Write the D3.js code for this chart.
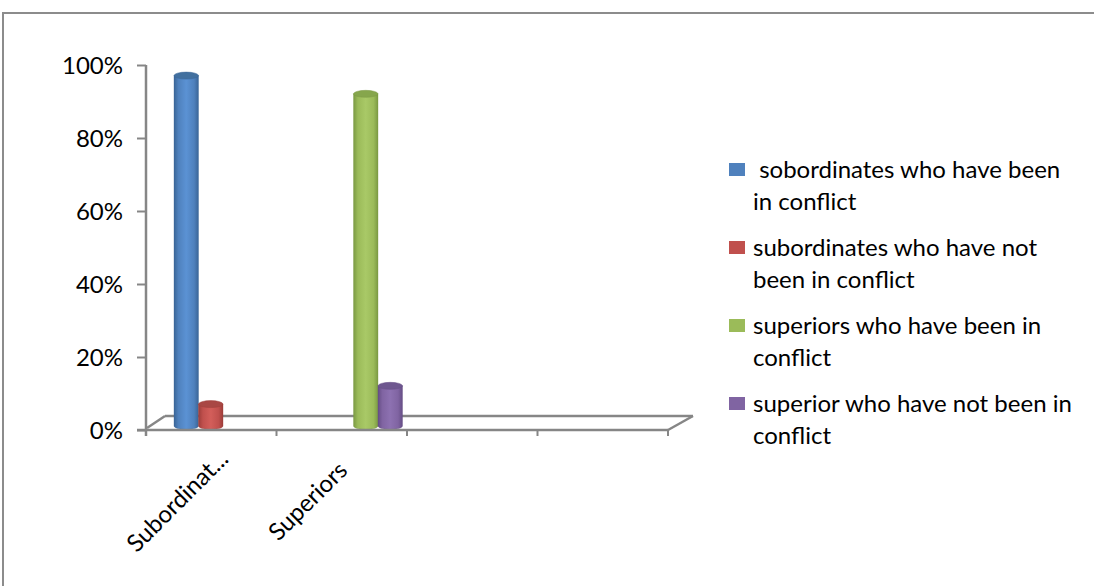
<!DOCTYPE html>
<html>
<head>
<meta charset="utf-8">
<script src="https://cdn.jsdelivr.net/npm/d3@7"></script>
<style>
  html, body { margin: 0; padding: 0; background: #fff; }
  svg { display: block; }
  text { font-family: Lato, "Open Sans", sans-serif; fill: #000; }
</style>
</head>
<body>
<svg id="chart" width="1094" height="586"></svg>
<script>
// Categories along the floor (the last two slots are empty)
const categories = ["Subordinat...", "Superiors", "cat3", "cat4"];
const categoryLabels = ["Subordinat...", "Superiors", "", ""];

// One value list per series, one entry per category (share of respondents)
const beenSubordinates    = [0.96, 0, 0, 0];
const notBeenSubordinates = [0.06, 0, 0, 0];
const beenSuperiors       = [0, 0.91, 0, 0];
const notBeenSuperiors    = [0, 0.11, 0, 0];

const seriesNames = [
  " sobordinates who have been\nin conflict",
  "subordinates who have not\nbeen in conflict",
  "superiors who have been in\nconflict",
  "superior who have not been in\nconflict"
];
const seriesValues = [beenSubordinates, notBeenSubordinates, beenSuperiors, notBeenSuperiors];
const yTicks = [0, 0.2, 0.4, 0.6, 0.8, 1.0];

const seriesColors = [
  { base: "#4F81BD", dark: "#3a6597", mid: "#5b92d4", cap: "#42709f" },
  { base: "#C0504D", dark: "#9d3d3a", mid: "#d35e5a", cap: "#a94744" },
  { base: "#9BBB59", dark: "#7b9a43", mid: "#a9c967", cap: "#86a64c" },
  { base: "#8064A2", dark: "#654d85", mid: "#8d71b1", cap: "#6e578f" }
];

const svg = d3.select("#chart");

// outer frame
svg.append("rect")
  .attr("x", 3).attr("y", 13).attr("width", 1200).attr("height", 700)
  .attr("fill", "none").attr("stroke", "#8c8c8c").attr("stroke-width", 2);

// geometry of the 3-D floor
const floorLeft = 146, floorRight = 668, floorFront = 430;
const depthX = 23, depthY = -15;
const barBase = 426;

const x = d3.scaleBand().domain(categories).range([floorLeft, floorRight]).padding(0);
const xInner = d3.scaleBand().domain(d3.range(seriesValues.length)).range([28, 126]).padding(0);
const y = d3.scaleLinear().domain([0, 1]).range([floorFront, 65]);
const yBar = d3.scaleLinear().domain([0, 1]).range([barBase, barBase - (floorFront - 65)]);

const axisColor = "#868686";

// floor outline
const floor = svg.append("g").attr("stroke", axisColor).attr("stroke-width", 2.5).attr("fill", "none");
floor.append("line").attr("x1", floorLeft + 1).attr("y1", floorFront - 2)
  .attr("x2", floorLeft + depthX - 4).attr("y2", floorFront + depthY + 1);
floor.append("line").attr("x1", floorLeft + depthX - 4).attr("y1", floorFront + depthY + 1)
  .attr("x2", floorRight + depthX + 2).attr("y2", floorFront + depthY + 1);
floor.append("line").attr("x1", floorRight).attr("y1", floorFront)
  .attr("x2", floorRight + depthX + 2).attr("y2", floorFront + depthY + 1);

// gradients for the cylinders
const defs = svg.append("defs");
seriesColors.forEach((c, i) => {
  const g = defs.append("linearGradient").attr("id", "cyl" + i)
    .attr("x1", "0%").attr("x2", "100%").attr("y1", "0%").attr("y2", "0%");
  g.append("stop").attr("offset", "0%").attr("stop-color", c.dark);
  g.append("stop").attr("offset", "18%").attr("stop-color", c.base);
  g.append("stop").attr("offset", "50%").attr("stop-color", c.mid);
  g.append("stop").attr("offset", "82%").attr("stop-color", c.base);
  g.append("stop").attr("offset", "100%").attr("stop-color", c.dark);
});

// cylinders
const bars = [];
categories.forEach((cat, ci) => {
  seriesValues.forEach((vals, si) => {
    if (vals[ci] > 0) bars.push({ cat, si, v: vals[ci] });
  });
});
const ry = 3.5;
const barG = svg.append("g");
bars.forEach(b => {
  const x0 = x(b.cat) + xInner(b.si);
  const w = xInner.bandwidth();
  const top = yBar(b.v);
  const c = seriesColors[b.si];
  const body = `M${x0},${top} L${x0},${barBase} A${w / 2},${ry} 0 0 0 ${x0 + w},${barBase} L${x0 + w},${top} Z`;
  barG.append("path").attr("d", body).attr("fill", `url(#cyl${b.si})`)
    .attr("stroke", c.dark).attr("stroke-opacity", 0.35).attr("stroke-width", 1);
  barG.append("ellipse").attr("cx", x0 + w / 2).attr("cy", top).attr("rx", w / 2).attr("ry", ry)
    .attr("fill", c.cap).attr("stroke", c.dark).attr("stroke-opacity", 0.5);
});

// front edge of the floor with category ticks
const front = svg.append("g").attr("stroke", axisColor).attr("stroke-width", 2.5);
front.append("line").attr("x1", floorLeft - 9).attr("y1", floorFront).attr("x2", floorRight).attr("y2", floorFront);
const tickXs = categories.map(c => x(c)).concat([x.range()[1]]);
tickXs.forEach(tx => {
  front.append("line").attr("x1", tx).attr("x2", tx).attr("y1", floorFront).attr("y2", floorFront + 6)
    .attr("stroke-width", 2);
});

// value axis
const yAxis = d3.axisLeft(y).tickValues(yTicks).tickFormat(d3.format(".0%"))
  .tickSize(9).tickSizeOuter(0).tickPadding(14);
const ya = svg.append("g").attr("transform", `translate(${floorLeft},0)`).call(yAxis);
ya.select(".domain").attr("stroke", axisColor).attr("stroke-width", 2.5)
  .attr("d", `M0,${y(1)}V${floorFront + 6}`);
ya.selectAll(".tick line").attr("stroke", axisColor).attr("stroke-width", 2);
ya.selectAll(".tick text").attr("font-size", 24).attr("font-family", "Lato, sans-serif")
  .attr("fill", "#000").attr("dy", "0.36em");

// category labels, rotated and centred under their slot
svg.append("g").selectAll("text")
  .data(categories.map((c, i) => ({ c, label: categoryLabels[i] })).filter(d => d.label))
  .join("text")
  .attr("transform", d => `translate(${x(d.c) + x.bandwidth() / 2 - 34},${floorFront + 71}) rotate(-45)`)
  .attr("text-anchor", "middle")
  .attr("dy", "0.35em")
  .attr("font-size", 24)
  .text(d => d.label);

// legend
const legend = svg.append("g");
const legendTop = [163, 241, 319, 397];
seriesNames.forEach((name, i) => {
  legend.append("rect").attr("x", 729).attr("y", legendTop[i]).attr("width", 16).attr("height", 13)
    .attr("fill", seriesColors[i].base);
  const t = legend.append("text").attr("x", 753).attr("y", legendTop[i] + 15)
    .attr("font-size", 24).style("white-space", "pre");
  name.split("\n").forEach((line, li) => {
    t.append("tspan").attr("x", 753).attr("dy", li === 0 ? 0 : 32).text(line);
  });
});
</script>
</body>
</html>
